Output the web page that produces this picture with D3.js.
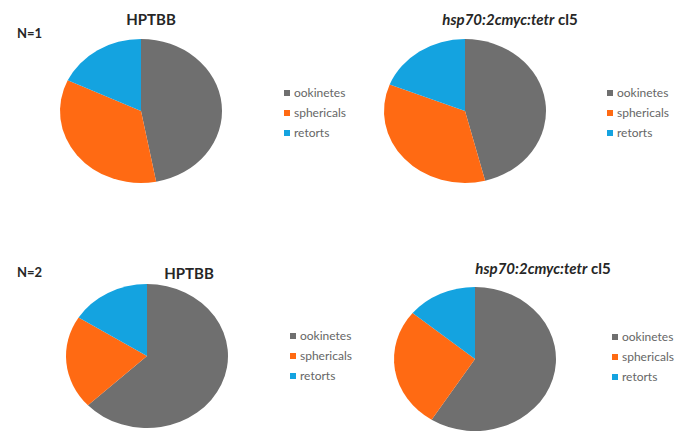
<!DOCTYPE html>
<html>
<head>
<meta charset="utf-8">
<script src="https://cdn.jsdelivr.net/npm/d3@7/dist/d3.min.js"></script>
<style>
  html, body { margin: 0; padding: 0; background: #ffffff; }
  svg { display: block; }
  text { font-family: Lato, "Open Sans", "Liberation Sans", sans-serif; }
</style>
</head>
<body>
<svg id="chart" width="688" height="432"></svg>
<script>
// Stage categories shared by every pie
const categories = ["ookinetes", "sphericals", "retorts"];
const colors = ["#6f6f6f", "#ff6a13", "#14a3e0"];

// Percent of each stage per line and replicate
const hptbbN1 = [47, 35, 18];
const hspN1   = [46, 35, 19];
const hptbbN2 = [63, 21, 16];
const hspN2   = [59, 27, 14];

const rowLabels = ["N=1", "N=2"];

const svg = d3.select("#chart");
const color = d3.scaleOrdinal().domain(categories).range(colors);
const pie = d3.pie().sort(null).value(d => d.v);

const ry = 72, rx = 81;
const arc = d3.arc().innerRadius(0).outerRadius(ry);

const panels = [
  { values: hptbbN1, cx: 141, cy: 111, title: "plain", tx: 151, ty: 25, lx: 287, ly: 93 },
  { values: hspN1,   cx: 465, cy: 111, title: "hsp",   tx: 510, ty: 25, lx: 610, ly: 93 },
  { values: hptbbN2, cx: 147, cy: 356, title: "plain", tx: 189, ty: 279, lx: 293, ly: 336 },
  { values: hspN2,   cx: 475, cy: 359, title: "hsp",   tx: 543, ty: 274, lx: 615, ly: 337 }
];

panels.forEach(p => {
  const data = categories.map((c, i) => ({ c, v: p.values[i] }));
  const g = svg.append("g")
    .attr("transform", `translate(${p.cx},${p.cy}) scale(${rx / ry},1)`);
  g.selectAll("path").data(pie(data)).join("path")
    .attr("d", arc)
    .attr("fill", d => color(d.data.c));

  // Title
  const t = svg.append("text")
    .attr("x", p.tx).attr("y", p.ty)
    .attr("text-anchor", "middle")
    .attr("font-size", 15).attr("font-weight", "bold")
    .attr("fill", "#262626");
  if (p.title === "plain") {
    t.text("HPTBB");
  } else {
    t.append("tspan").attr("font-style", "italic").text("hsp70:2cmyc:tetr");
    t.append("tspan").text(" cl5");
  }

  // Legend
  const lg = svg.append("g").attr("transform", `translate(${p.lx},${p.ly})`);
  const rows = lg.selectAll("g").data(categories).join("g")
    .attr("transform", (d, i) => `translate(0,${i * 20})`);
  rows.append("rect")
    .attr("x", -3).attr("y", -3).attr("width", 6).attr("height", 6)
    .attr("fill", d => color(d));
  rows.append("text")
    .attr("x", 7).attr("y", 0).attr("dy", "0.35em")
    .attr("font-size", 12).attr("fill", "#666666")
    .text(d => d);
});

// Replicate labels
svg.selectAll("text.row").data(rowLabels).join("text")
  .attr("class", "row")
  .attr("x", 17).attr("y", (d, i) => i === 0 ? 38 : 277)
  .attr("font-size", 13).attr("font-weight", "bold")
  .attr("fill", "#262626")
  .text(d => d);
</script>
</body>
</html>
